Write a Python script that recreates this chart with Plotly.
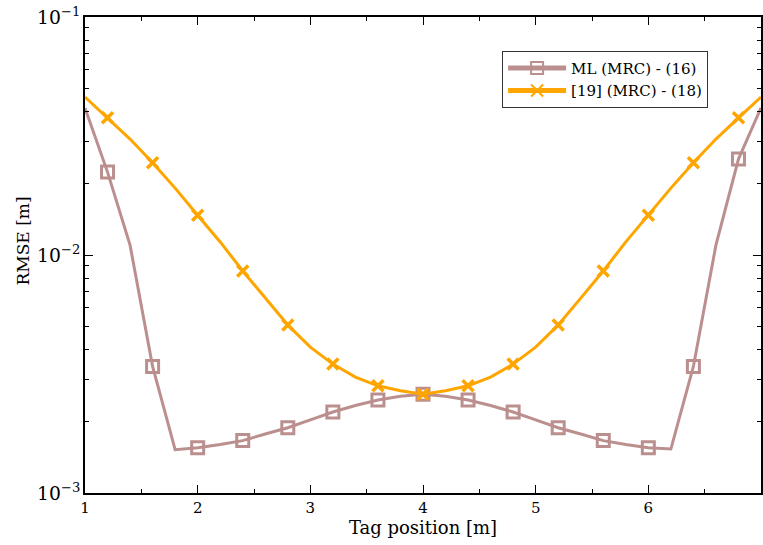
import plotly.graph_objects as go

x_pos = [1.0, 1.2, 1.4, 1.6, 1.8, 2.0, 2.2, 2.4, 2.6, 2.8, 3.0, 3.2, 3.4, 3.6, 3.8, 4.0,
         4.2, 4.4, 4.6, 4.8, 5.0, 5.2, 5.4, 5.6, 5.8, 6.0, 6.2, 6.4, 6.6, 6.8, 7.0]

rmse_ml = [0.0415, 0.0223, 0.0110, 0.0034, 0.00152, 0.00155, 0.0016, 0.00166, 0.00177, 0.00188,
           0.00203, 0.00219, 0.00233, 0.00246, 0.00255, 0.0026,
           0.00255, 0.00246, 0.00233, 0.00219, 0.00203, 0.00188, 0.00177, 0.00166, 0.0016, 0.00155,
           0.00153, 0.0034, 0.0110, 0.0253, 0.0415]

rmse_ref = [0.0461, 0.0377, 0.0307, 0.0244, 0.0191, 0.0147, 0.01135, 0.00857, 0.00659, 0.00508,
            0.0041, 0.00348, 0.00307, 0.00282, 0.00269, 0.0026,
            0.00269, 0.00282, 0.00307, 0.00348, 0.0041, 0.00508, 0.00659, 0.00857, 0.01135, 0.0147,
            0.0191, 0.0244, 0.0307, 0.0377, 0.0461]

marker_every = [0, 1, 0, 1, 0, 1, 0, 1, 0, 1, 0, 1, 0, 1, 0, 1,
                0, 1, 0, 1, 0, 1, 0, 1, 0, 1, 0, 1, 0, 1, 0]

names = ["ML (MRC) - (16)", "[19] (MRC) - (18)"]
colors = ["#BC8F8F", "#FFA500"]

font_family = "DejaVu Serif"

fig = go.Figure()
fig.add_trace(go.Scatter(
    x=x_pos, y=rmse_ml, name=names[0], mode="lines+markers",
    line=dict(color=colors[0], width=3),
    marker=dict(symbol="square-open", size=[12 * m for m in marker_every],
                color=colors[0], opacity=1, line=dict(width=3, color=colors[0])),
))
fig.add_trace(go.Scatter(
    x=x_pos, y=rmse_ref, name=names[1], mode="lines+markers",
    line=dict(color=colors[1], width=3),
    marker=dict(symbol="x-thin", size=[11 * m for m in marker_every],
                color=colors[1], opacity=1, line=dict(width=3.5, color=colors[1])),
))

fig.update_layout(
    width=763, height=545,
    margin=dict(l=85, r=0, t=17, b=52),
    paper_bgcolor="white", plot_bgcolor="white",
    font=dict(family=font_family, size=14, color="black"),
    showlegend=True,
    legend=dict(
        x=0.617, y=0.929, xanchor="left", yanchor="top",
        bgcolor="white", bordercolor="#333", borderwidth=1,
        font=dict(family=font_family, size=15),
        itemsizing="constant", itemwidth=58,
        tracegroupgap=0,
    ),
    annotations=[dict(
        text="RMSE [m]", xref="paper", yref="paper",
        x=-0.092, y=0.53, xanchor="center", yanchor="middle",
        textangle=-90, showarrow=False,
        font=dict(family=font_family, size=17, color="black"),
    )],
)

fig.update_xaxes(
    range=[1, 7], showgrid=False, zeroline=False,
    showline=True, linecolor="black", linewidth=1.5, mirror="allticks",
    ticks="inside", ticklen=8, tickcolor="black", dtick=1, tick0=1,
    minor=dict(ticks="inside", ticklen=4, dtick=0.5, tick0=1, tickcolor="black"),
    title=dict(text="Tag position [m]", standoff=4, font=dict(family=font_family, size=18)),
    tickfont=dict(family=font_family, size=15),
)
fig.update_yaxes(
    type="log", range=[-3, -1], showgrid=False, zeroline=False,
    showline=True, linecolor="black", linewidth=1.5, mirror="allticks",
    ticks="inside", ticklen=8, tickcolor="black", dtick=1,
    exponentformat="power",
    minor=dict(ticks="inside", ticklen=4, dtick="D1", tickcolor="black"),
    tickfont=dict(family=font_family, size=15),
)

fig.write_html("out.html")
